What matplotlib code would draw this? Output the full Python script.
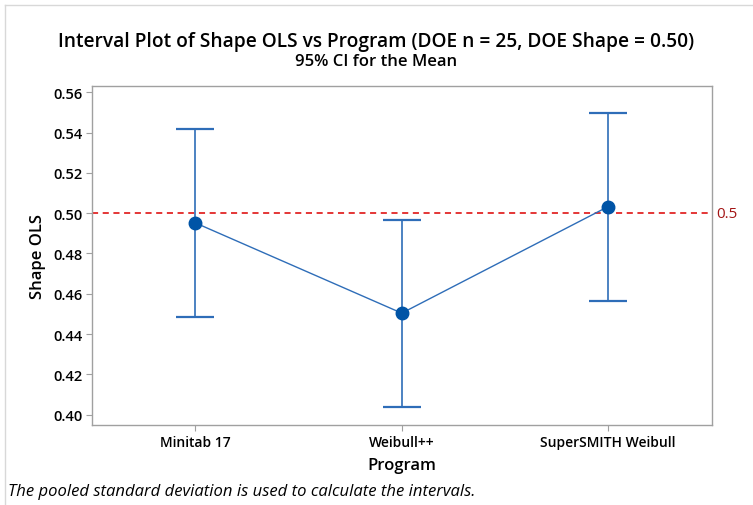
import matplotlib
matplotlib.use('Agg')
import matplotlib.pyplot as plt
from matplotlib.lines import Line2D

# data
programs = ['Minitab 17', 'Weibull++', 'SuperSMITH Weibull']
means = [0.4952, 0.4504, 0.5033]
lower = [0.4487, 0.4039, 0.4566]
upper = [0.5418, 0.4968, 0.5496]
ref_value = 0.5
yticks = [0.40, 0.42, 0.44, 0.46, 0.48, 0.50, 0.52, 0.54, 0.56]

plt.rcParams['font.family'] = ['Open Sans', 'DejaVu Sans']

fig = plt.figure(figsize=(7.53, 5.06), dpi=100)
ax = fig.add_axes([92 / 753, 1 - 426 / 506, (711.5 - 92) / 753, (426 - 87) / 506])

x = list(range(len(programs)))
err_lo = [m - l for m, l in zip(means, lower)]
err_hi = [u - m for m, u in zip(means, upper)]

blue = '#0054A6'
line_blue = '#2E6DB8'

ax.axhline(ref_value, color='#DD0000', linestyle=(0, (4, 3)), linewidth=1.1, zorder=1)
ax.errorbar(x, means, yerr=[err_lo, err_hi], fmt='none', ecolor=line_blue,
            elinewidth=1.2, capsize=14, capthick=1.6, zorder=2)
ax.plot(x, means, color=line_blue, linewidth=1.0, zorder=3)
ax.plot(x, means, 'o', color=blue, markersize=9, zorder=4)

ax.text(1.008, ref_value, '0.5', transform=ax.get_yaxis_transform(),
        color='#A31515', fontsize=11, va='center', ha='left')

ax.set_xlim(-0.5, 2.5)
ax.set_ylim(0.3949, 0.5631)
ax.set_xticks(x)
ax.set_xticklabels(programs, fontsize=10, fontweight='semibold')
ax.set_yticks(yticks)
ax.set_yticklabels([f'{v:.2f}' for v in yticks], fontsize=10.5, fontweight='semibold')
ax.tick_params(axis='both', direction='out', length=4, color='#A0A0A0', pad=3)

for s in ax.spines.values():
    s.set_color('#A0A0A0')
    s.set_linewidth(1.0)

ax.set_xlabel('Program', fontsize=12, fontweight='semibold', labelpad=6)
ax.set_ylabel('Shape OLS', fontsize=12, fontweight='semibold', labelpad=5)

fig.text(0.5, 1 - 42 / 506, 'Interval Plot of Shape OLS vs Program (DOE n = 25, DOE Shape = 0.50)',
         ha='center', va='center', fontsize=13.8, fontweight='semibold')
fig.text(0.5, 1 - 62 / 506, '95% CI for the Mean', ha='center', va='center',
         fontsize=12, fontweight='semibold')
fig.text(8 / 753, 1 - 492 / 506, 'The pooled standard deviation is used to calculate the intervals.',
         ha='left', va='center', fontsize=12, style='italic')

# light frame around the graph window
fig.add_artist(Line2D([5 / 753, 5 / 753], [0, 1 - 6 / 506], color='#D8D8D8', linewidth=1,
                      transform=fig.transFigure))
fig.add_artist(Line2D([5 / 753, 1], [1 - 6 / 506, 1 - 6 / 506], color='#D8D8D8', linewidth=1,
                      transform=fig.transFigure))

fig.savefig('out.png', dpi=100)
